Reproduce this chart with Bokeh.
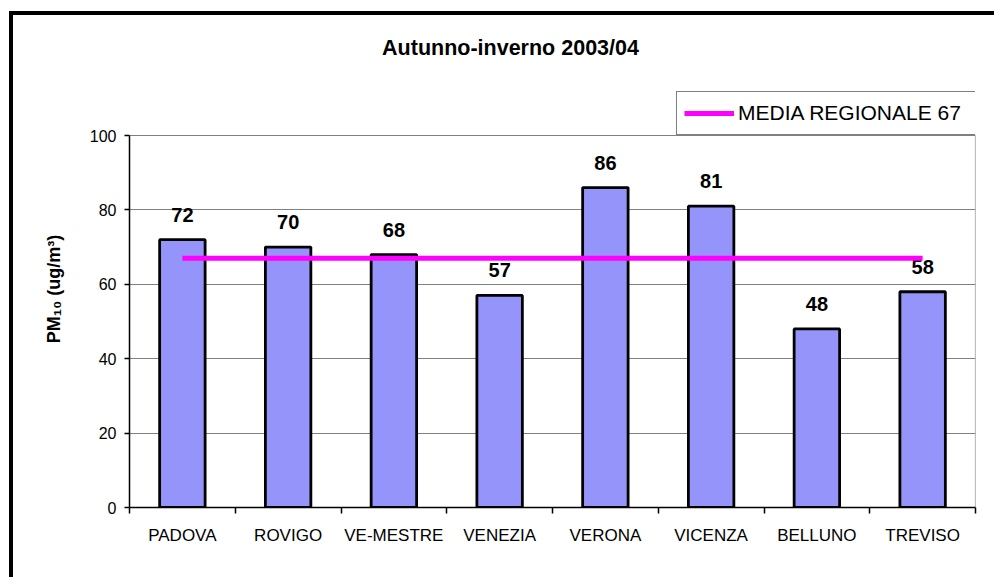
import numpy as np
from bokeh.plotting import figure
from bokeh.models import (ColumnDataSource, FixedTicker, Legend, LegendItem,
                          Label, Range1d)
from bokeh.core.properties import value
from bokeh.embed import file_html
from bokeh.resources import INLINE

# ---- data ----
cities = ["PADOVA", "ROVIGO", "VE-MESTRE", "VENEZIA", "VERONA", "VICENZA", "BELLUNO", "TREVISO"]
pm10 = [72, 70, 68, 57, 86, 81, 48, 58]
media_regionale = 67
y_ticks = [0, 20, 40, 60, 80, 100]
title_text = "Autunno-inverno 2003/04"
y_label = "PM\u2081\u2080 (ug/m\u00b3)"
legend_label = "MEDIA REGIONALE 67"

FONT = "Liberation Sans"
n = len(cities)
xc = [i + 0.5 for i in range(n)]
y_top = y_ticks[-1]
# plot area occupies 372 px for 0..100; the frame extends up to the canvas top (507 px)
y_max = y_top * 507 / 372

src = ColumnDataSource(dict(x=xc, top=pm10, lab=[str(v) for v in pm10], city=cities))

p = figure(width=994, height=577, output_backend="svg", toolbar_location=None, title=None,
           x_range=Range1d(0, n), y_range=Range1d(0, y_max),
           min_border_left=129, min_border_right=19, min_border_top=0, min_border_bottom=70)
p.background_fill_alpha = 0
p.border_fill_alpha = 0
p.outline_line_color = None
# outer chart frame (left and top edges visible in the crop)
p.styles = {"box-shadow": "inset 9px 11px 0 0 white, inset 13px 15px 0 0 black",
            "background-color": "white"}

# grey right edge of the plot area
p.segment(x0=[n], y0=[0], x1=[n], y1=[y_top], line_color="#808080", line_width=1.2)

# bars
p.vbar(x="x", top="top", width=0.43, bottom=0, source=src,
       fill_color="#9494FA", line_color="black", line_width=2.8)

# value labels
p.text(x="x", y="top", text="lab", source=src, y_offset=-25,
       text_align="center", text_baseline="middle",
       text_font=value(FONT), text_font_size="20px", text_font_style="bold",
       text_color="black")

# regional mean line
mean_r = p.line(x=[xc[0], xc[-1]], y=[media_regionale, media_regionale],
                line_color="#FF00FF", line_width=5)

# axes
p.xgrid.visible = False
p.ygrid.grid_line_color = "#808080"
p.ygrid.grid_line_width = 1.2
p.ygrid.ticker = FixedTicker(ticks=y_ticks)

p.yaxis.ticker = FixedTicker(ticks=y_ticks)
p.yaxis.bounds = (y_ticks[0], y_top)
p.yaxis.axis_line_color = "black"
p.yaxis.axis_line_width = 1.5
p.yaxis.major_tick_line_color = "black"
p.yaxis.major_tick_line_width = 1.5
p.yaxis.major_tick_out = 5
p.yaxis.major_tick_in = 0
p.yaxis.minor_tick_line_color = None
p.yaxis.major_label_standoff = 8
p.yaxis.major_label_text_font = FONT
p.yaxis.major_label_text_font_size = "16px"
p.yaxis.major_label_text_color = "black"
# trailing figure spaces shift the visible label down to the middle of the 0..100 axis
p.yaxis.axis_label = y_label + "\u2007" * 7
p.yaxis.axis_label_text_font = FONT
p.yaxis.axis_label_text_font_size = "18px"
p.yaxis.axis_label_text_font_style = "bold"
p.yaxis.axis_label_text_color = "black"
p.yaxis.axis_label_standoff = 23

p.xaxis.ticker = FixedTicker(ticks=xc, minor_ticks=list(range(n + 1)))
p.xaxis.major_label_overrides = {x: c for x, c in zip(xc, cities)}
p.xaxis.axis_line_color = "black"
p.xaxis.axis_line_width = 1.5
p.xaxis.major_tick_out = 0
p.xaxis.major_tick_in = 0
p.xaxis.major_tick_line_color = None
p.xaxis.minor_tick_line_color = "black"
p.xaxis.minor_tick_line_width = 1.5
p.xaxis.minor_tick_out = 6
p.xaxis.minor_tick_in = 0
p.xaxis.major_label_standoff = 12
p.xaxis.major_label_text_font = FONT
p.xaxis.major_label_text_font_size = "17px"
p.xaxis.major_label_text_color = "black"

# title
p.add_layout(Label(x=3.603, y=123.4, text=title_text, text_align="center",
                   text_baseline="middle", text_font=FONT, text_font_size="21.5px",
                   text_font_style="bold", text_color="black"))

# legend just above the plot area, right-aligned
legend = Legend(items=[LegendItem(label=legend_label, renderers=[mean_r])],
                location=(547, 372), margin=0, padding=7, spacing=0,
                glyph_width=50, glyph_height=24, label_height=28, label_standoff=4,
                label_width=238,
                label_text_font=FONT, label_text_font_size="21px", label_text_color="black",
                border_line_color="black", border_line_width=1.5,
                background_fill_color="white", background_fill_alpha=1)
p.add_layout(legend, "center")

open("out.html", "w").write(file_html(p, INLINE))
